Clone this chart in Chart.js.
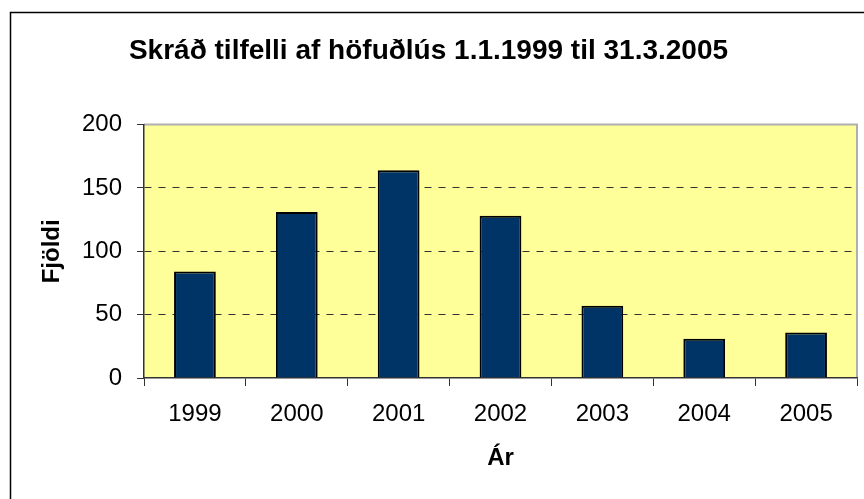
<!DOCTYPE html>
<html>
<head>
<meta charset="utf-8">
<script src="https://cdn.jsdelivr.net/npm/chart.js@4/dist/chart.umd.min.js"></script>
<style>
  html, body { margin: 0; padding: 0; background: #fff; }
  #wrap { width: 864px; height: 499px; }
</style>
</head>
<body>
<div id="wrap"><canvas id="chart" width="864" height="499"></canvas></div>
<script>
const years = ['1999', '2000', '2001', '2002', '2003', '2004', '2005']
const cases = [84, 131, 164, 128, 57, 31, 36]
const yTicks = [0, 50, 100, 150, 200]

const font = "'Liberation Sans', Arial, sans-serif"

// white page, outer frame and yellow plot area
const background = {
    id: 'background',
    beforeDraw(chart) {
        const ctx = chart.ctx;
        const a = chart.chartArea;
        ctx.save();
        ctx.fillStyle = '#fff';
        ctx.fillRect(0, 0, chart.width, chart.height);
        ctx.strokeStyle = '#000';
        ctx.lineWidth = 1.5;
        ctx.beginPath();
        ctx.moveTo(10.5, chart.height);
        ctx.lineTo(10.5, 12.5);
        ctx.lineTo(chart.width, 12.5);
        ctx.stroke();
        ctx.fillStyle = '#ffff99';
        ctx.fillRect(a.left, a.top, a.right - a.left, a.bottom - a.top);
        ctx.strokeStyle = '#b0b0b0';
        ctx.lineWidth = 2;
        ctx.beginPath();
        ctx.moveTo(a.left, a.top);
        ctx.lineTo(a.right, a.top);
        ctx.lineTo(a.right, a.bottom);
        ctx.stroke();
        ctx.restore();
    }
}

new Chart(document.getElementById('chart'), {
    type: 'bar',
    data: {
        labels: years,
        datasets: [{
            data: cases,
            backgroundColor: '#003366',
            borderColor: '#000',
            borderWidth: 2,
            barPercentage: 0.41,
            categoryPercentage: 1
        }]
    },
    plugins: [background],
    options: {
        responsive: false,
        animation: false,
        layout: { padding: { left: 0, right: 7, top: 0, bottom: 0 } },
        plugins: {
            legend: { display: false },
            tooltip: { enabled: false },
            title: {
                display: true,
                text: 'Skráð tilfelli af höfuðlús 1.1.1999 til 31.3.2005',
                color: '#000',
                font: { family: font, size: 28, weight: 'bold' },
                padding: { top: 34, bottom: 57 }
            }
        },
        scales: {
            x: {
                afterFit(scale) { scale.height = 121; },
                grid: {
                    offset: true,
                    color: 'rgba(0,0,0,0)',
                    tickColor: '#333',
                    tickLength: 8,
                    lineWidth: 1
                },
                border: { color: '#333', width: 1.5 },
                ticks: {
                    color: '#000',
                    padding: 14,
                    font: { family: font, size: 24 }
                },
                title: {
                    display: true,
                    text: 'Ár',
                    color: '#000',
                    font: { family: font, size: 24, weight: 'bold' },
                    padding: { top: 0, bottom: 26 }
                }
            },
            y: {
                min: 0,
                max: 200,
                afterFit(scale) { scale.width = 144; },
                afterBuildTicks(scale) {
                    scale.ticks = yTicks.map(v => ({ value: v }));
                },
                grid: {
                    color: ctx => (ctx.tick && (ctx.tick.value === 0 || ctx.tick.value === 200)) ? 'rgba(0,0,0,0)' : '#333',
                    tickColor: '#333',
                    tickLength: 7,
                    lineWidth: 1
                },
                border: { color: '#333', width: 1.5, dash: [7, 7] },
                ticks: {
                    color: '#000',
                    padding: 15,
                    font: { family: font, size: 24 }
                },
                title: {
                    display: true,
                    text: 'Fjöldi',
                    color: '#000',
                    font: { family: font, size: 24, weight: 'bold' },
                    padding: { top: 38, bottom: 0 }
                }
            }
        }
    }
})
</script>
</body>
</html>
